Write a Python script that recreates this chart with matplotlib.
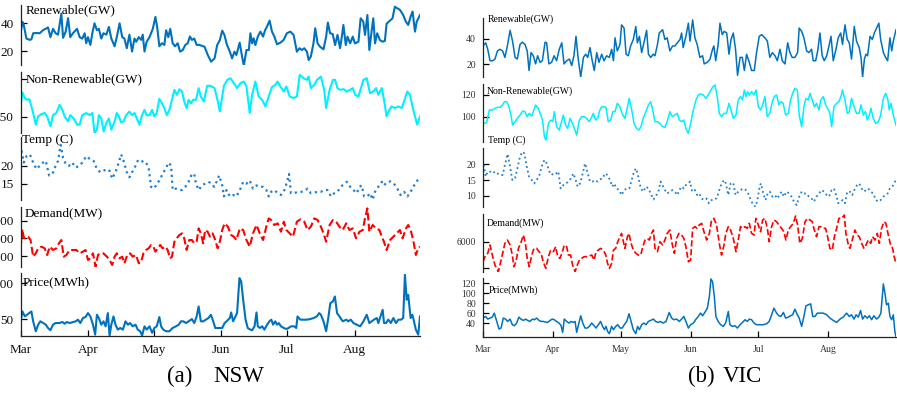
import matplotlib
matplotlib.use("Agg")
import matplotlib.pyplot as plt

plt.rcParams["font.family"] = ["Liberation Serif", "DejaVu Serif"]

# ---------------------------------------------------------------- data
# x positions are days since 1 March
month_names = ["Mar", "Apr", "May", "Jun", "Jul", "Aug"]
month_start = [0, 31, 61, 92, 122, 153]

# ---- NSW
nsw_ren_day = [0, 0.9, 1.5, 2.7, 4.3, 5, 5.8, 7.3, 8.8, 10.3, 12.6, 13.7, 14.9, 16.1, 17.2, 18.7, 19.5, 20.7, 21.8, 22.8,
               24, 25.9, 27.1, 28.3, 29.4, 30.1, 30.9, 32, 32.9, 33.9, 35, 35.9, 37, 38, 39.3, 40.5, 41.6, 43.1, 44.1,
               45.4, 46.6, 47.6, 48.7, 49.9, 51.1, 52.2, 53, 54.2, 55.3, 56, 56.8, 57.8, 59.1, 60.6, 61.8, 62.6, 63.6,
               64.8, 65.9, 66.7, 67.7, 68.6, 69.7, 70.8, 72, 73.1, 74.3, 75.5, 76.6, 77.6, 78.5, 79.6, 80.7, 81.9,
               84.3, 85.8, 87.3, 88.9, 90.1, 91.3, 92.4, 93.4, 94.6, 95.9, 96.9, 98, 98.9, 100.4, 101.5, 102.3, 103.5,
               104.6, 105.3, 106.1, 106.8, 107.6, 108.7, 109.9, 111.1, 112.1, 112.9, 114.1, 115.2, 116.3, 117.5, 119,
               120.5, 122, 123.6, 125.1, 126.6, 127.8, 128.9, 130, 131.2, 132, 133, 134.2, 135, 136.1, 137.2, 138.8,
               140, 140.8, 141.8, 143, 144.1, 145.2, 146.4, 147.2, 147.9, 149, 149.8, 151, 152.2, 153.2, 154.8, 155.8,
               157, 157.8, 158.9, 159.8, 160.9, 161.6, 162.4, 163.4, 164.6, 165.9, 166.9, 167.7, 169.2, 170.4, 171.5,
               172.5, 173.8, 175.3, 176.5, 177.6, 178.7, 179.6, 180.7, 181.5, 183]
nsw_ren_gw = [32.8, 41, 38.8, 29, 28, 28.5, 32.8, 33, 32.8, 35, 37, 30, 36, 32.8, 31.8, 47, 29.5, 34, 43.7, 30,
              32.8, 36, 30, 28.9, 32.8, 25.6, 30, 24.4, 32.8, 40, 35, 36, 29, 32.8, 31.8, 37.4, 29, 23.4, 30,
              40, 30, 29, 22, 31.8, 19.6, 29, 26.7, 30, 28, 31.8, 19.6, 26.7, 30, 36, 44.6, 37.4, 23.4,
              25.6, 24.4, 35, 30, 36, 25.6, 23.4, 25.6, 19.6, 20.6, 24.4, 25.6, 30.5, 28, 29, 24.4, 24.4,
              23.1, 17.1, 12.3, 14.7, 24.3, 27.8, 34.7, 31.6, 24.3, 19.5, 14.7, 19.5, 17.1, 26, 16, 9.5, 20.7,
              20.7, 32.8, 25.5, 29.2, 24.3, 30.4, 34, 30.4, 35.2, 37.6, 41.9, 34, 30.4, 24.8, 26,
              27.9, 32.8, 34, 31.6, 19.5, 22, 20.7, 22, 19.5, 13.5, 16, 25.5, 36.4, 25.5, 23.1, 21.2,
              30.4, 40.5, 32.8, 32.3, 24.3, 31.6, 22, 30.4, 38.8, 24.3, 30.4, 25.5, 30.4, 25.5, 26.7, 43.6,
              41.2, 31.6, 46, 20.7, 35.2, 43.6, 25.5, 32.8, 27.9, 26.7, 27.3, 39.7, 41.9, 43.6, 52,
              50.9, 49.7, 46, 41.2, 38.8, 44.8, 48.5, 34, 41.2, 46]

nsw_nonren_day = [0, 0.9, 2, 3, 4, 5, 5.8, 7, 8.1, 9.6, 11.1, 12.2, 13.7, 14.9, 16.4, 17.9, 19.2, 20.2, 21.8, 22.8,
                  24.4, 25.9, 27.1, 28.3, 30.1, 31.7, 32.9, 33.9, 35, 35.9, 37, 38.1, 39.3, 40.5, 41.6, 43.1, 44.1,
                  45.1, 46.1, 47.2, 48.4, 49.9, 51.1, 52.2, 53.3, 54.5, 55.7, 56.8, 57.8, 59.1, 60.3, 61.3, 62.4,
                  63.6, 64.8, 65.9, 67, 68.2, 69.4, 70.5, 71.6, 72.8, 74, 75, 76.1, 77, 78.1, 79.1, 80.4, 81.6, 82.6,
                  84, 85.5, 87, 88.9, 90.4, 91.3, 93.2, 94.7, 96.2, 97.7, 99.2, 100.8, 102.3, 103.5, 105, 106.1,
                  107.6, 109.1, 110.7, 112.2, 113.7, 115.2, 116.7, 117.8, 119, 120.6, 121.8, 123.3, 125.1, 126.6,
                  127.9, 129.7, 131.2, 132, 133, 134.6, 135.8, 137.6, 139.1, 140, 141.6, 143.1, 144.1, 145.2, 146.4,
                  148, 149.5, 151, 152.2, 153.3, 154.8, 157.1, 158.6, 160.1, 161.6, 162.9, 163.9, 165.5, 166.5,
                  167.7, 169, 170, 171.5, 173.1, 174.6, 175.7, 177.2, 178.4, 179.9, 181.7, 183]
nsw_nonren_gw = [163.8, 182, 174.8, 172.6, 173.4, 163.8, 155.2, 140, 150.8, 153.8, 155.2, 150.8, 137.8, 152.4, 155.2,
                 166, 159.4, 150.8, 144.3, 152.4, 148, 140, 140, 152.4, 155.2, 152.4, 155.2, 129, 133.4, 152.4, 148,
                 131, 142, 148, 133.4, 144.3, 155.2, 150.8, 143, 144.3, 152.4, 157, 152.4, 155.2, 148, 140, 152.4,
                 159.4, 152.4, 152.4, 159.4, 150.8, 155.2, 173.9, 168, 161.6, 152.4, 159.4, 172.6, 185.6, 179, 186.4,
                 183.4, 170.4, 161.6, 172.6, 168, 172.6, 172.6, 187.8, 176.8,
                 170.4, 190.9, 190.9, 187.9, 170.4, 157.3, 190.9, 198.7, 200.9, 194.4, 187.9, 194.4, 196.5, 190,
                 155.2, 179.1, 196.5, 176.9, 172.6, 163.8, 176.9, 189.2, 192.2, 196.5, 190, 183.4, 190, 176.9, 174.8,
                 176.9, 205.2, 200.9, 198.7, 203, 187.9, 192.2, 198.7, 203, 185.6, 161.7, 185.6, 198.7, 198.7, 187.9,
                 185.6, 186.5, 183.4, 185.6, 187.9, 179.1, 176.9, 198.7, 200.9, 181.3, 183.4, 187.9, 179.1, 187.9,
                 172.6, 150.8, 159.5, 163.8, 161.7, 163.8, 161.7, 170.4, 183.4, 179.1, 159.5, 140, 150.8]

nsw_temp_day = [0, 1.5, 2.7, 4.3, 5.8, 7.3, 8.8, 10.3, 11.6, 13.1, 14.6, 16.1, 17.2, 18.4, 19.5, 20.7, 22.2, 23.7, 25.3,
                26.8, 28.3, 30.1, 32, 33.5, 35, 36.5, 38, 39.6, 40.8, 42, 43.5, 45, 46.1, 47.2, 48.7, 49.9, 51.1, 52.7,
                53.7, 54.8, 56.3, 57.5, 58.7, 59.8, 60.9, 62.1, 63.6, 65.1, 66.7, 67.9, 69, 69.7, 71.2, 72.8, 74, 75.5,
                77, 78.5, 79.6, 80.4, 81.6, 83.1, 84.6, 86.1, 87.7, 88.7, 89.8, 91,
                92.4, 93.2, 94.4, 95.9, 97.4, 98.9, 100.5, 102, 103.5, 105, 106.5, 108.1, 109.6, 111.1, 112.6, 113.7,
                114.8, 116.3, 117.8, 119.3, 120.9, 122.1, 123, 123.9, 125.4, 127, 128.5, 130, 131.5, 133, 134.6,
                136.1, 137.6, 139.1, 140.6, 142.2, 143.7, 145.2, 146.7, 148.3, 149.5, 151, 152.5, 154, 155.3, 156.3,
                157.4, 158.9, 160.1, 161.3, 162.4, 163.9, 165.5, 166.5, 168, 169.6, 171.1, 172.6, 174.1, 175.7,
                177.2, 178.7, 179.9, 181.4, 182.7]
nsw_temp_c = [25.9, 20.9, 22.7, 23.2, 20.9, 19.1, 20, 20.9, 21.4, 17.3, 17.7, 20, 21.4, 25.9, 22.3, 20.5, 20, 20.9, 19.5,
              20, 20.9, 22.7, 21.8, 21.4, 19.1, 18.2, 18.6, 19.1, 18.6, 16.4, 18.2, 20.9, 23.2, 21.4, 18.2, 16.8, 18.2, 20,
              21.4, 20.9, 21.4, 20.9, 19.5, 14.1, 13.6, 14.5, 15.9, 17.7, 19.5, 20.9, 20, 13.2, 13.6, 13.2, 13.2, 14.1,
              15.5, 17.7, 17.7, 15, 13.2, 14.5, 15, 15.5, 15, 14.1, 15.5, 17.3,
              14.5, 11.4, 13.2, 11.4, 11.8, 11.4, 13.2, 15.5, 15, 15.9, 13.6, 14.5, 14.1, 14.1, 13.2, 11.4,
              12.7, 13.2, 12.3, 11.8, 13.2, 15.5, 17.7, 12.3, 12.3, 12.7, 12.7, 12.9, 13.6, 12.3, 12.5,
              12.7, 12.7, 13.2, 13.2, 11.4, 12.3, 12.7, 14.1, 15, 15.5, 14.1, 13.2, 12.3, 14.1, 14.5,
              11.4, 11.4, 12.3, 10.5, 12.7, 14.1, 15.5, 14.5, 15.5, 15.6, 15, 13.6, 11.8, 12.7,
              11.4, 12.7, 14.1, 15.5, 16.8]

nsw_demand_day = [0, 0.9, 1.5, 2.4, 3.5, 4.6, 5.8, 7, 8.1, 9.6, 11.1, 12.2, 13.4, 14.9, 16.4, 17.6, 18.7, 19.8, 21,
                  22.5, 24, 25.6, 27.1, 28.6, 29.8, 30.9, 32, 33.2, 34.4, 35.5, 36.5, 38, 39.6, 40.8, 42, 43.1, 44.1,
                  45.4, 46.6, 47.6, 48.9, 50.2, 51.4, 52.9, 54.2, 55.3, 56.3, 57.5, 58.7, 59.8, 60.9, 61.8, 62.9, 64,
                  65.1, 66.4, 67.4, 68.5, 69.4, 70.5, 71.5, 72.8, 74, 75, 76.1, 77.3, 78.5, 79.6, 80.7, 81.6, 82.6,
                  83.7, 84.6, 85.7, 86.8, 88, 89.2, 90.3, 91,
                  92.4, 93.5, 95, 96.5, 97.7, 98.9, 100.5, 102, 103.5, 105, 106.5, 108.1, 109.6, 111.1, 112.6, 113.7,
                  114.8, 116.3, 117.8, 119.3, 120.6, 121.8, 123.3, 124.8, 126.6, 128.2, 130, 131.5, 133, 134.6, 136.1,
                  137.6, 138.8, 140, 141.6, 143.1, 144.6, 146.1, 147.6, 149.2, 150.7, 152.2, 153.7, 155.3, 156.8,
                  157.8, 158.9, 159.8, 161.3, 162.9, 164.4, 165.5, 166.5, 167.7, 169.3, 170.8, 172.3, 173.8, 175,
                  176.6, 177.6, 178.7, 179.9, 181.1, 182.2, 183]
nsw_demand_mw = [7434, 8509, 8000, 8094, 8094, 7906, 6962, 7151, 7434, 7528, 7434, 7057, 7528, 7340, 7434, 7717, 7906,
                 6962, 7057, 7340, 7340, 7340, 7151, 7245, 7340, 6773, 6868, 7151, 6396, 7057, 7151, 7151, 6962, 6773,
                 6490, 6962, 7151, 6868, 6962, 6585, 7057, 7151, 6962, 7057, 6585, 6679, 7151, 7340, 7434, 7623, 7528,
                 7245, 7434, 7623, 7434, 7528, 7340, 6868, 6962, 7811, 8000, 8189, 8283, 8000, 7340, 7906, 7906, 7717,
                 7811, 8566, 8283, 7717, 8472, 8377, 8094, 8283, 7906, 7434, 7623,
                 8472, 8849, 8660, 8189, 8094, 7906, 8566, 8472, 7906, 7528, 8283, 8755, 8283, 7906, 8660, 9132,
                 9038, 8755, 8849, 8377, 8943, 8472, 8283, 8094, 8943, 9075, 8943, 8472, 8660, 9132, 9038,
                 8660, 8283, 7811, 8755, 9038, 8943, 8660, 8472, 8849, 8472, 8566, 8000, 8377, 8472,
                 9132, 9698, 8377, 8755, 8566, 8472, 8094, 7811, 7340, 7906, 8094, 8283, 8472, 8000,
                 8566, 8755, 8472, 7906, 7057, 7434, 7528]

nsw_price_day = [0, 0.9, 2, 3, 4, 5, 5.8, 7, 8.1, 9.1, 10.4, 11.6, 12.6, 13.7, 14.9, 16.1, 17.7, 19.2, 20.2, 21.3, 22.5,
                 23.7, 25.3, 26.3, 27.4, 28.6, 29.8, 30.9, 32, 33.2, 34.2, 35, 35.9, 37, 38, 39, 40, 40.8, 41.6, 42.6,
                 43.5, 44.6, 45.7, 46.9, 48.1, 49.2, 50.2, 51.4, 52.7, 53.7, 54.8, 55.7, 56.8, 57.8, 59.1, 60.3, 61.3,
                 62.4, 63.6, 64.4, 65.4, 66.7, 68.2, 69.7, 71.2, 72.5, 73.5, 74.6, 75.8, 77, 78.5, 79.6, 80.7, 81.6,
                 82.6, 83.7, 84.9, 86.1, 87.2, 88.3, 89.2, 90.3,
                 92.4, 93.5, 94.4, 95.9, 96.5, 97.4, 98.5, 99.2, 100.3, 101.1, 102, 103.1, 104.1, 105.3, 106.1, 107.2,
                 108.1, 108.7, 109.6, 110.7, 111.7, 113, 114, 114.9, 115.7, 116.7, 117.5, 118.3, 119.3, 120.6, 121.8,
                 122.8, 123.9, 125.4, 126.3, 126.9, 128.2, 129.7, 131.2, 132.7, 134.3, 135.8, 136.8, 137.6, 138.8,
                 140, 141.1, 141.9, 143.1, 144, 145, 146.1, 147.6, 149.2, 150.2, 151.3, 152.5, 154, 155.6, 157.1,
                 158.6, 159.8, 160.9, 161.9, 163.2, 163.9, 165.9, 166.5, 167.4, 168.5, 169.6, 170.8, 172, 173.1,
                 174.3, 175.3, 176.1, 176.9, 177.6, 178.7, 179.5, 179.9, 181.1, 182.2, 183]
nsw_price_mwh = [46.8, 60.6, 53.7, 56, 58.3, 60.6, 46.8, 32.9, 42.1, 46.8, 44.4, 42.1, 37.5, 34.3, 42.1, 44.4, 44.4,
                 45.8, 43.5, 45.8, 44.4, 45.4, 46.8, 49.1, 44.4, 51.4, 52.8, 58.3, 53.7, 42.1, 28.2, 56, 51.4, 42.1,
                 46.8, 39.8, 58.3, 26.9, 42.1, 53.7, 42.1, 35.2, 37.5, 35.2, 46.8, 42.1, 44.4, 39.8, 42.1, 35.2, 32.9,
                 26.9, 39.8, 35.2, 39.8, 30.6, 37.5, 39.8, 52.8, 39.8, 35.2, 32.9, 32.9, 37.5, 39.8, 42.1, 46.8, 46.8,
                 44.4, 46.8, 50, 44.4, 53.7, 67.6, 46.8, 46.8, 49.1, 51.4, 56, 46.8, 37.5, 37.5,
                 37.5, 44.4, 46.8, 51.4, 59.2, 46.8, 53.7, 58.3, 107.1, 102.5, 76.9, 49.1, 37.5, 35.2, 34.3, 39.8,
                 59.2, 39.8, 37.5, 39.8, 35.2, 42.1, 46.8, 49.1, 42.1, 46.8, 42.1, 44.4, 39.8, 37.5, 36.1,
                 37.5, 39.8, 39.8, 37.5, 53.7, 49.1, 49.1, 49.1, 50, 51.4, 53.7, 58.3, 56, 46.8,
                 32.9, 53.7, 72.2, 74.5, 81.5, 58.3, 53.7, 46.8, 49.1, 46.8, 49.1, 44.4, 42.1, 39.8, 46.8,
                 56, 44.4, 46.8, 49.1, 51.4, 44.4, 62.9, 44.4, 44.4, 49.1, 44.4, 51.4, 44.4, 49.1,
                 49.1, 51.4, 111.7, 76.9, 83.8, 51.4, 56, 51.4, 35.2, 28.2, 53.7]

# ---- VIC
vic_ren_day = [0, 1.2, 2.1, 3.1, 4.3, 5.3, 6.4, 7.5, 8.7, 9.7, 10.8, 12, 13.1, 14.2, 15.2, 16.4, 17.4, 18.6, 19.6, 20.4,
               21.3, 22.3, 23.3, 24.2, 25.3, 26.3, 27.5, 28.2, 29.2, 30.4, 31.5, 32.6, 33.8, 34.9, 35.9, 37.1, 38.3,
               39.3, 40.3, 41.2, 42.2, 43.3, 44.5, 45.5, 46.4, 47.4, 48.4, 49.3, 50.4, 51.4, 52.6, 53.6, 54.8, 56, 57,
               57.8, 58.5, 59.5, 60.7, 61.4, 62.5, 63.4, 64.4, 65.4, 66.6, 67.7, 68.4, 69.3, 70.3, 71.3, 72.5, 73.3,
               74.3, 75.5, 76.2, 77.3, 78.1,
               79.6, 80.6, 81.6, 82.8, 84, 85, 86.1, 87.3, 88, 88.7, 89.9, 91, 91.7, 92.9, 93.9, 94.9, 96.1, 97.3, 98,
               99.4, 100.6, 101.7, 102.3, 103.1, 104.2, 105, 106, 106.9, 108, 109, 109.9, 110.9, 111.9, 112.8, 113.9,
               114.9, 115.8, 116.8, 118, 119, 120.2, 121.2, 122.4, 123.5, 124.9, 126, 127.1, 128.2, 129.4, 130.4,
               131.6, 132.6, 133.8, 135, 136, 137, 138.2, 139.4, 140.1, 141.2, 142.2, 143.4, 144.4, 145.6, 146.3,
               147.4, 148.3, 149.3, 150.3, 151.2, 152.3, 153.3, 154.2, 155.2, 156.4, 157.4, 158.5, 159.3, 160.4,
               161.4, 162.3, 163.3, 164.5, 165.5, 166.7, 167.5, 168.2, 169, 169.7, 170.4, 171.5, 172.5, 173.4,
               174.4, 175.4, 176.2, 177.4, 178.4, 179.3, 180.3, 181.1, 181.8, 183]
vic_ren_gw = [34.4, 36.9, 31.8, 22.8, 22.8, 24.1, 30.5, 31.8, 30.5, 25.4, 34.4, 46.7, 38.2, 25.4, 24.1, 35.6, 37.4, 35.6,
              30.5, 15.1, 29.2, 26.7, 20.3, 26.7, 21.5, 22.8, 37.4, 36.9, 20.3, 21.5, 26.7, 22.8, 31.8, 36.9, 20.3,
              22.8, 24.1, 19, 26.7, 42, 24.1, 10, 25.4, 27.9, 25.4, 33.1, 22.8, 15.1, 29.2, 21.5, 27.9, 22.8, 26.7,
              25.4, 31.8, 22.8, 40.8, 30.5, 35.6, 51, 48.5, 27.9, 26.7, 34.4, 39.5, 49.7, 36.9, 42, 29.2, 36.9, 46.7,
              27.9, 25.4, 27.9, 26.7, 35.6, 44.6,
              47.2, 39.5, 40.8, 30.5, 34.4, 34.4, 36.9, 39.5, 44.6, 33.1, 42, 52.3, 38.2, 54.9, 40.8, 35.6, 25.4, 26.7,
              20.3, 21.5, 24.1, 31.8, 34.4, 22.8, 35.6, 52.3, 43.3, 45.9, 44.6, 27.9, 39.5, 44.6, 31.8, 11.3, 25.4,
              25.4, 15.1, 27.9, 21.5, 15.1, 15.1, 29.2, 42, 43.3, 40.8, 38.2, 25.4, 29.2, 26.7, 22.8,
              31.8, 22.8, 20.3, 36.9, 29.2, 25.4, 25.4, 29.2, 48.5, 45.9, 40.8, 30.5, 29.2, 31.8, 22.8,
              22.8, 30.5, 44.6, 26.7, 22.8, 26.7, 34.4, 42, 22.8, 31.8, 40.8, 44.6, 35.6, 51,
              39.5, 36.9, 24.1, 49.7, 38.2, 33.1, 25.4, 10, 24.1, 27.9, 26.7, 42, 39.5, 44.6,
              48.5, 52.3, 39.5, 29.2, 25.4, 22.8, 40.8, 30.5, 38.2, 47.2]

vic_nonren_day = [0, 1.6, 2.8, 4.3, 5.3, 6.4, 7.5, 8.7, 9.5, 10.5, 11.5, 12.4, 13.1, 14.2, 15.2, 16.4, 17.6, 18.6, 19.6,
                  20.5, 21.6, 22.3, 23.3, 24.5, 25.6, 26.4, 27.2, 27.9, 29, 30, 30.9, 31.6, 32.6, 33.8, 34.6, 35.6,
                  36.6, 37.5, 38.6, 39.6, 40.5, 41.5, 42.7, 43.7, 44.9, 45.9, 47, 47.9, 48.9, 49.9, 50.8, 51.8, 52.6,
                  53.3, 54.5, 55.5, 56.6, 57.5, 58.5, 59.5, 60.7, 61.9, 62.9, 64, 64.8, 65.9, 66.9, 68.1, 69.1, 70, 71,
                  72.2, 73.3, 74.3, 75.2, 76.2, 77.3,
                  78.4, 79.6, 80.6, 81.6, 82.8, 83.9, 85, 86.1, 87, 88, 89, 89.9, 91, 92, 93.2, 94.4, 95.4, 96.4, 97.6,
                  98.8, 99.8, 100.9, 101.7, 102.8, 103.8, 104.7, 105.7, 106.8, 107.9, 109, 109.9, 110.9, 112.1,
                  113.1, 114.1, 115, 115.8, 116.5, 117.2, 118, 119, 120.1, 121, 122, 123, 123.9, 124.9, 126, 127.1,
                  128.2, 129.1, 130.1, 131.1, 132, 133, 134.1, 135.3, 136.3, 137.2, 138.2, 139.3, 140.1, 141.2, 142.2,
                  143.1, 144.1, 144.9, 145.9, 146.8, 147.8, 148.9, 149.7, 150.8, 151.8, 152.7, 153.7, 154.5, 155.5,
                  156.7, 157.7, 158.6, 159.3, 160.4, 161.4, 162.3, 163.3, 164.4, 165.5, 166.6, 167.5, 168.5, 169.5,
                  170.3, 171.2, 171.9, 172.9, 174, 175.2, 176.2, 177.4, 178.4, 179.3, 180, 180.8, 181.8, 183]
vic_nonren_gw = [93.8, 94.5, 106.2, 106.2, 107.7, 108.6, 108.6, 110.8, 113.8, 113.8, 109.2, 101.5, 92.3, 95.4, 98.5,
                 101.5, 105.2, 104.6, 100, 103.1, 100.6, 104.6, 110.8, 107.7, 101.5, 96.9, 81.5, 78.5, 93.8, 96.9,
                 95.4, 104.6, 90.8, 87.7, 93.8, 101.5, 92.3, 89.2, 98.5, 93.8, 89.2, 83.1, 96.9, 100, 100, 98.5, 95.4,
                 98.5, 103.1, 96.9, 98.5, 106.2, 109.2, 109.2, 108.6, 95.4, 96.9, 104.6, 104.6, 112.3, 109.2, 101.5,
                 98.5, 109.2, 116.9, 106.2, 93.8, 89.2, 87.7, 90.8, 98.5, 104.6, 110.8, 113.8, 106.2, 95.4, 95.4,
                 93.8, 90.8, 90.2, 95.4, 104.6, 100, 101.5, 103.1, 96.9, 95.4, 96.9, 89.2, 84.6, 93.8, 106.2, 115.4,
                 120, 120.9, 120, 116.9, 120, 124, 127.1, 129.2, 118.5, 103.1, 100, 103.1, 103.1, 112.3, 106.2, 98.5,
                 101.5, 115.4, 118.5, 115.4, 124.6, 118.5, 123.1, 120, 123.1, 120, 124.6, 109.2, 106.2, 110.8, 118.5,
                 100, 103.1, 113.8, 118.5, 120, 110.8, 113.8, 112.3, 101.5, 103.1, 115.4, 121.5, 126.2, 124.6, 101.5,
                 90.8, 109.2, 116.9, 115.4, 121.5, 115.4, 109.2, 112.3, 106.2, 115.4, 118.5, 110.8, 107.7, 103.1,
                 90.8, 109.2, 112.3, 113.8, 118.5, 124.6, 115.4, 103.1, 104.6, 116.9, 109.2, 103.1, 103.1, 110.8,
                 101.5, 104.6, 96.9, 101.5, 107.7, 98.5, 93.8, 95.4, 101.5, 116.9, 121.5, 116.9, 106.2, 112.3, 101.5,
                 92.3]

vic_temp_day = [0, 1.2, 2.1, 3.1, 4.3, 5.3, 6.4, 7.5, 8.7, 9.7, 10.9, 12, 13, 14.2, 15.2, 16.4, 17.4, 18.3, 19.4, 20.4,
                21.6, 22.7, 23.8, 25, 26, 27.2, 28.2, 29.4, 30.4, 31.5, 32.6, 33.4, 34.4, 35.6, 36.8, 37.8, 39, 40, 41.1,
                41.9, 43, 44.2, 45.2, 46.2, 47.4, 48.6, 49.6, 50.7, 51.8, 53, 54.1, 55.1, 56.3, 57.3, 58.1, 59.2, 60.3,
                61.4, 62.5, 63.7, 64.8, 65.9, 66.9, 67.8, 68.8, 69.9, 71, 72.2, 73.3, 74.3, 75.5, 76.5, 77.7, 78.7,
                80.6, 81.6, 82.8, 83.9, 85, 86.1, 87, 88, 89, 89.9, 91, 91.7, 92.7, 93.9, 94.9, 95.8, 96.9, 97.9, 99.1,
                100.1, 101.3, 102.3, 103.5, 104.7, 105.7, 106.8, 107.6, 108.7, 109.7, 110.9, 111.9, 113.1, 114.1,
                115.3, 116.5, 117.5, 118.7, 119.8, 120.8, 121.7, 122.7, 123.2, 124.2, 125.2, 126.1, 127.1, 128.2,
                129.4, 130.4, 131.3, 132.3, 133.3, 134.5, 135.7, 136.7, 137.8, 139, 140.1, 141.2, 142.2, 143.4,
                144.4, 145.6, 146.6, 147.8, 148.9, 150, 151.1, 152.3, 153.3, 154.5, 155.5, 156.7, 157.4, 158.5,
                159.3, 160.4, 161.4, 162.6, 163.6, 164.8, 165.8, 166.7, 167.8, 168.8, 169.7, 170.7, 171.8, 172.9,
                174.1, 175.2, 176.2, 177.4, 178.4, 179.3, 180.3, 181.4, 182.2, 183]
vic_temp_c = [21.4, 16.1, 17.7, 17.7, 17.1, 17.7, 17.1, 16.6, 16.6, 19.8, 23.3, 19.3, 15, 15.5, 18.7, 22.4, 24, 23.5,
              19.3, 16.1, 15, 13.9, 15, 16.6, 19.3, 21.4, 20.3, 17.7, 16.6, 17.3, 17.1, 17.7, 12.3, 13.4, 13.9, 14.5,
              15.5, 17.1, 15, 12.9, 13.9, 17.1, 20.3, 17.7, 14.5, 14.5, 15, 14.5, 15.2, 15.5, 17.1, 16.6, 15, 12.9,
              13.9, 12.3, 11.8, 10.2, 11.8, 12.3, 12.3, 15, 17.7, 18.7, 16.1, 12.3, 11.3, 12.9, 12.3, 10.7, 8.8, 9.7,
              11.3, 14.5,
              11.8, 10.7, 11.3, 11.8, 11.3, 10.2, 11.8, 12.9, 12.3, 13.4, 13.9, 14.5, 11.3, 11.8, 10.2, 10.7, 9.1,
              8.6, 9.1, 7.6, 8.6, 9.1, 9.1, 11.8, 13.9, 15, 13.9, 10.2, 13.9, 14.1, 10.2, 11.3, 11.8, 12.3, 11.8,
              10.7, 8.6, 7, 6.5, 9.1, 13.4, 13.9, 10.7, 8.6, 10.7, 11.3, 9.7, 10.2, 9.1, 10.2, 11.3, 9.7, 11.3, 10.7,
              9.7, 8.1, 7, 9.7, 11.3, 10.7, 10.7, 9.7, 9.1, 8.1, 9.7, 10.7, 11.8, 11.3, 10.2, 9.7, 11.8, 12.3, 9.7,
              7.6, 8.1, 8.6, 7.6, 11.3, 11.3, 10.2, 12.3, 13.4, 13.9, 12.3, 11.3, 11.8, 12.3, 11.3, 10.7, 8.6, 8.1,
              8.6, 9.7, 10.2, 10.7, 12.3, 12.9, 13.9, 15.2]

vic_demand_day = [0, 1.2, 2.1, 3.1, 4.3, 5.3, 6.8, 7.5, 8.7, 9.7, 10.8, 12, 13, 13.7, 14.6, 15.7, 16.7, 17.9, 18.8, 19.6,
                  20.5, 21.6, 22.6, 23.8, 24.8, 25.7, 26.7, 27.8, 29, 30, 31.2, 32.2, 33.1, 34.1, 35.2, 36, 37.1,
                  37.8, 38.8, 39.7, 40.8, 41.8, 42.7, 43.7, 44.8, 45.9, 47, 48.2, 49.2, 50.1, 51.1, 52.1, 53.3, 54.4,
                  55.2, 56, 57, 57.8, 58.8, 59.7, 60.7, 61.4, 62.2, 62.9, 64, 64.7, 65.4, 66.6, 67.8, 68.8, 69.9,
                  70.8, 71.8, 72.8, 73.7, 74.7, 75.5, 76.2, 77.3,
                  78.4, 79.6, 80.6, 81.6, 82.8, 83.9, 84.8, 85.8, 86.8, 88, 89, 89.9, 91, 92, 92.9, 93.9, 94.9, 95.8,
                  96.9, 97.9, 99.1, 100.3, 101.3, 102.3, 103.5, 104.7, 105.7, 106.8, 107.6, 108.7, 109.7, 110.9,
                  112.1, 113.1, 114.1, 115, 116.1, 117.1, 118, 119, 120.1, 120.9, 122, 123, 123.9, 124.9, 126, 126.8,
                  127.9, 128.9, 130.1, 131.1, 132.3, 133.3, 134.2, 135.3, 136.3, 137.5, 138.5, 139.4, 140.4, 141.5,
                  142.7, 143.7, 144.9, 145.9, 146.8, 147.8, 148.9, 149.7, 150.8, 151.8, 152.7, 153.7, 154.8, 155.7,
                  156.7, 157.7, 158.9, 160.1, 160.8, 161.9, 162.6, 163.6, 164.8, 165.8, 166.7, 167.8, 168.8, 169.7,
                  170.7, 171.8, 172.6, 173.7, 174.7, 175.6, 176.6, 177.7, 178.5, 179.6, 180.6, 181.5, 182.2, 183]
vic_demand_mw = [5248, 5499, 5561, 5875, 5436, 5123, 4872, 5123, 5561, 5937, 6063, 5875, 5499, 5060, 5248, 5749, 5937,
                 6251, 5937, 5373, 5060, 5499, 5749, 5749, 5624, 5561, 5248, 4998, 5436, 5687, 5624, 5812, 5436, 5373,
                 5624, 5875, 5812, 5499, 5499, 5123, 4872, 5123, 5311, 5373, 5436, 5436, 5461, 5499, 5311, 5624, 5687,
                 5749, 5687, 5499, 5185, 4998, 5185, 5687, 5749, 6000, 6188, 6313, 6000, 5749, 6188, 6313, 6000, 5687,
                 5561, 5499, 5499, 5812, 6063, 6125, 6063, 6313, 6439, 5749, 5624,
                 6000, 5875, 6063, 6313, 6439, 5875, 5561, 6125, 6313, 6251, 6125, 5812, 5248, 5311, 6501, 6564, 6501,
                 6627, 6689, 6376, 6063, 6313, 6815, 6877, 6627, 5937, 5499, 5875, 6313, 6564, 6439, 6125, 5624, 6063,
                 6564, 6501, 6564, 6501, 6689, 6313, 6251, 6877, 6627, 6376, 6815, 6877, 6501, 6000, 6564, 6815, 6752,
                 6627, 6501, 6376, 6063, 6439, 6564, 6689, 6965, 6627, 5937, 6125, 6752, 6877, 6815, 6752, 6439, 6188,
                 6564, 6564, 6501, 6501, 6188, 5749, 5687, 6188, 6501, 6877, 6877, 7002, 6313, 5875, 5749, 6063, 6439,
                 6251, 6188, 5937, 5749, 5875, 6063, 5937, 6188, 6063, 6313, 5937, 6501, 6752, 6689, 6251, 5875, 5749,
                 5436, 5185]

vic_price_day = [0, 1.2, 2.1, 3.1, 4.1, 5, 6.1, 7.1, 8, 9, 10, 10.9, 12, 13, 13.9, 14.9, 15.9, 16.8, 17.9, 18.9, 19.8,
                 20.8, 21.9, 22.7, 23.8, 24.8, 25.7, 26.7, 27.8, 28.7, 29.7, 30.7, 31.6, 32.6, 33.7, 34.6, 35.3, 36,
                 37.1, 38.1, 39, 40, 40.8, 41.5, 42.5, 43.3, 44.2, 45.2, 46.2, 47.1, 48.2, 49.2, 50.1, 51.1, 52.1, 53,
                 53.8, 54.5, 55.2, 56, 57, 57.8, 58.8, 59.7, 60.7, 61.7, 62.6, 63.7, 64.7, 65.6, 66.6, 67.7, 68.5,
                 69.3, 70.3, 71.3, 72.2, 73.3, 74.3, 75.5, 76.5, 77.7,
                 78.4, 79.9, 81.1, 82.5, 83.6, 84.6, 85.8, 87, 88, 89, 89.9, 91, 92, 93.2, 94.4, 95.4, 96.4, 97.3, 98.3,
                 99.4, 100.3, 101, 101.7, 102.5, 103.2, 104.2, 105.3, 106.5, 107.5, 108.7, 109.4, 110.5, 111.6, 112.7,
                 113.9, 115, 116.1, 117.1, 118, 119, 120.1, 121.2, 122.7, 124.2, 125.7, 126.8, 127.9, 128.9, 130.1,
                 131.1, 132, 133.1, 134.1, 135.3, 136.3, 137.2, 138.2, 139.3, 140.1, 141.2, 142.2, 143.1, 144.1,
                 145.2, 146.1, 147.1, 148.1, 149.3, 150.8, 152.3, 153.7, 155.2, 156.7, 158.2, 159.6, 161.1, 162.3,
                 163.3, 164.4, 165.3, 166.3, 167.3, 168.2, 169.2, 170.3, 171.2, 172.2, 173.2, 174.4, 175.4, 176.3,
                 177.4, 178.1, 178.8, 179.6, 180.3, 181.1, 181.8, 182.5, 183]
vic_price_mwh = [50, 53.3, 48, 50, 52, 60, 43.3, 28, 30, 50, 48, 43.3, 48, 36.7, 34.7, 40, 52, 48, 45.3, 48, 45.3, 43.3,
                 48, 46.7, 50, 45.3, 43.3, 43.3, 42, 41.3, 45.3, 48, 46.7, 43.3, 40, 34.7, 21.3, 48, 43.3, 40, 43.3,
                 41.3, 43.3, 21.3, 40, 54.7, 40, 30, 30, 33.3, 40, 34.7, 30, 36.7, 43.3, 33.3, 26.7, 33.3, 23.3, 18.7,
                 33.3, 26.7, 33.3, 36.7, 30, 30, 36.7, 43.3, 58.7, 43.3, 26.7, 18.7, 33.3, 26.7, 36.7, 40, 36.7, 43.3,
                 45.3, 48, 43.3, 41.3,
                 43.3, 40, 43.3, 61.3, 50, 46.7, 48, 43.3, 48, 53.3, 43.3, 30, 36.7, 40, 48, 53.3, 60, 54.7, 61.3, 70,
                 93.3, 128.7, 123.3, 93.3, 53.3, 43.3, 36.7, 33.3, 40, 63.3, 36.7, 33.3, 34.7, 30, 36.7, 41.3, 46.7,
                 43.3, 48, 46.7, 40, 36.7, 36.7, 36.7, 38.7, 43.3, 56.7, 70, 60, 54.7, 53.3, 61.3, 50, 52, 54.7, 56.7,
                 68, 56.7, 50, 33.3, 53.3, 74.7, 76.7, 78.7, 53.3, 53.3, 60, 60, 60, 56.7, 50, 45.3, 41.3, 48, 52, 60,
                 53.3, 56.7, 48, 56.7, 52, 65.3, 48, 54.7, 50, 54.7, 46.7, 54.7, 48, 52, 60, 118.7, 100, 76.7, 80,
                 53.3, 46.7, 56.7, 23.3, 12]

# ---------------------------------------------------------------- layout
W, H = 897, 394
fig = plt.figure(figsize=(W / 100, H / 100), dpi=100)

BLUE = "#0072BD"
DOT_BLUE = "#1f7fd0"
CYAN = "#00F0FF"
RED = "#FF0000"


def add_axes_px(left, right, top, bottom):
    return fig.add_axes([left / W, 1 - bottom / H, (right - left) / W, (bottom - top) / H])


def style_axes(ax, fs, is_bottom, lab_color, xpad):
    for side in ("top", "right"):
        ax.spines[side].set_visible(False)
    ax.spines["left"].set_linewidth(0.9)
    ax.spines["left"].set_color("#222222")
    if is_bottom:
        ax.spines["bottom"].set_linewidth(0.9)
        ax.spines["bottom"].set_color("#222222")
        ax.set_xticks(month_start)
        ax.set_xticklabels(month_names)
        ax.tick_params(axis="x", direction="in", length=4, width=0.9, labelsize=fs,
                       pad=xpad, labelcolor=lab_color)
    else:
        ax.spines["bottom"].set_visible(False)
        ax.set_xticks([])
    ax.tick_params(axis="y", direction="in", length=4, width=0.9, labelsize=fs,
                   pad=5, labelcolor=lab_color)
    ax.set_xlim(0, 183)
    ax.patch.set_alpha(0)


def fig_text(x, y, s, fs, **kw):
    fig.text(x / W, 1 - y / H, s, fontsize=fs, ha="left", va="center", **kw)


# NSW panel
nsw_rows = [(5, 65), (72, 133), (137, 200), (207, 267), (273, 336)]
nsw_axes = [add_axes_px(20.5, 420, t, b) for t, b in nsw_rows]
ax1, ax2, ax3, ax4, ax5 = nsw_axes
ax1.plot(nsw_ren_day, nsw_ren_gw, color=BLUE, lw=1.5)
ax2.plot(nsw_nonren_day, nsw_nonren_gw, color=CYAN, lw=1.5)
ax3.plot(nsw_temp_day, nsw_temp_c, color=DOT_BLUE, lw=1.6, ls=":")
ax4.plot(nsw_demand_day, nsw_demand_mw, color=RED, lw=1.5, ls="--")
ax5.plot(nsw_price_day, nsw_price_mwh, color=BLUE, lw=1.5)
ax1.set_ylim(9.9, 53.2)
ax2.set_ylim(129, 209)
ax3.set_ylim(10.4, 28.1)
ax4.set_ylim(6377, 9776)
ax5.set_ylim(26.3, 114.3)
ax1.set_yticks([20, 40])
ax2.set_yticks([150, 200])
ax2.set_yticklabels(["150", ""])
ax3.set_yticks([15, 20])
ax4.set_yticks([7000, 8000, 9000])
ax5.set_yticks([50, 100])
for i, ax in enumerate(nsw_axes):
    style_axes(ax, 9.5, i == 4, "#111111", 6)

fs_n = 9.5
fig_text(26, 10, "Renewable(GW)", fs_n)
fig_text(26, 79, "Non-Renewable(GW)", fs_n)
fig_text(22, 140, "Temp (C)", fs_n)
fig_text(25, 213, "Demand(MW)", fs_n)
fig_text(23, 282, "Price(MWh)", fs_n)

# VIC panel
vic_rows = [(18, 77), (84, 142), (148, 207), (214, 272), (278, 337)]
vic_axes = [add_axes_px(483, 896, t, b) for t, b in vic_rows]
bx1, bx2, bx3, bx4, bx5 = vic_axes
bx1.plot(vic_ren_day, vic_ren_gw, color=BLUE, lw=1.1)
bx2.plot(vic_nonren_day, vic_nonren_gw, color=CYAN, lw=1.1)
bx3.plot(vic_temp_day, vic_temp_c, color=DOT_BLUE, lw=1.3, ls=":")
bx4.plot(vic_demand_day, vic_demand_mw, color=RED, lw=1.2, ls="--")
bx5.plot(vic_price_day, vic_price_mwh, color=BLUE, lw=1.1)
bx1.set_ylim(10, 56.4)
bx2.set_ylim(76.7, 130.1)
bx3.set_ylim(6.4, 25.2)
bx4.set_ylim(4861, 7041)
bx5.set_ylim(12, 130.6)
bx1.set_yticks([20, 40])
bx2.set_yticks([100, 120])
bx3.set_yticks([10, 15, 20])
bx4.set_yticks([5000, 6000])
bx4.set_yticklabels(["", "6000"])
bx5.set_yticks([40, 60, 80, 100, 120])
for i, ax in enumerate(vic_axes):
    style_axes(ax, 7, i == 4, "#333333", 6)

fs_v = 7
fig_text(488, 19, "Renewable(GW)", fs_v)
fig_text(487, 91, "Non-Renewable(GW)", fs_v)
fig_text(488, 140, "Temp (C)", fs_v)
fig_text(487, 223, "Demand(MW)", fs_v)
fig_text(489, 290, "Price(MWh)", fs_v)

# panel captions
fig_text(167, 376, "(a)", 16.5)
fig_text(213, 376, "NSW", 16.5)
fig_text(688, 376, "(b)", 16.5)
fig_text(723, 376, "VIC", 16.5)

fig.savefig("out.png", dpi=100)
